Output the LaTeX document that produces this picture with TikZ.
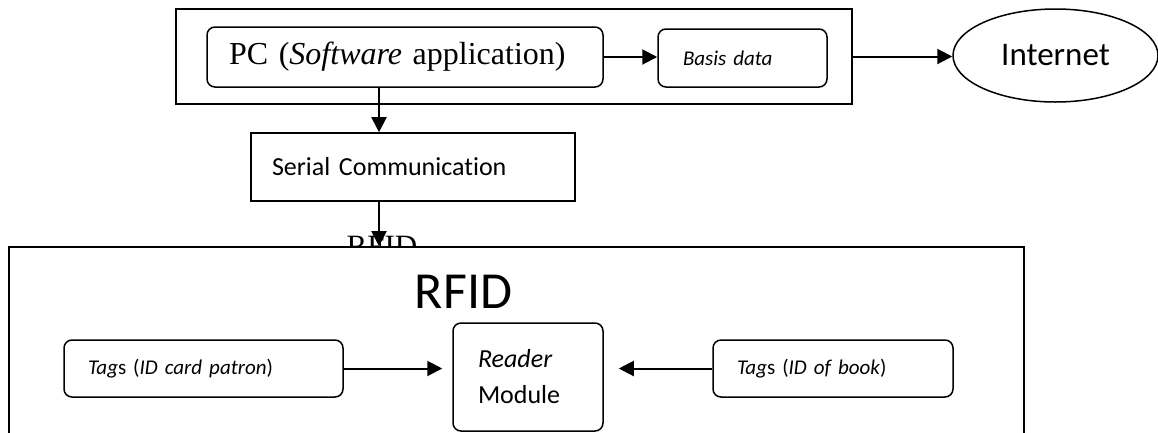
\documentclass[tikz,border=0pt]{standalone}
\usepackage{fontspec}
\setmainfont{Carlito}[Ligatures=NoCommon]
\newfontfamily\tnr{Liberation Serif}
\usetikzlibrary{positioning,arrows.meta,shapes.geometric}
\tikzset{
  outer/.style={rectangle, draw=black, line width=1.6pt, inner sep=0pt},
  rbox/.style={rectangle, rounded corners=8pt, draw=black, line width=1.5pt,
               fill=white, align=left, inner ysep=0pt},
  netnode/.style={ellipse, draw=black, line width=1.5pt, inner sep=0pt,
                  minimum width=205pt, minimum height=93pt},
  flow/.style={-{Triangle[length=15pt,width=15pt]}, draw=black, line width=2pt},
  small/.style={font=\fontsize{21}{25}\selectfont},
}

\begin{document}
\begin{tikzpicture}[x=1pt,y=-1pt]
  \useasboundingbox (0,0) rectangle (1158,432);
  \clip (0,0) rectangle (1158,432);

  % label half hidden behind the RFID frame
  \node[font=\tnr\fontsize{31}{31}\selectfont, anchor=base] (rfidcut) at (382,256) {RFID};
  \node[outer, fill=white, minimum width=1015pt, minimum height=260pt] (rfidbox) at (516.5,377) {};

  % PC side
  \node[outer, minimum width=676pt, minimum height=95pt] (pcframe) at (514,56.5) {};
  \node[rbox, minimum width=396pt, minimum height=60pt, text width=352pt, inner xsep=22pt,
        font=\tnr\fontsize{32}{36}\selectfont] (pc) at (405,57) {PC (\textit{Software} application)};
  \node[rbox, small, minimum width=169pt, minimum height=58pt, text width=119pt,
        inner xsep=25pt] (basis) at (742.5,58) {\textit{Basis data}};
  \node[netnode, font=\fontsize{33}{36}\selectfont] (inet) at (1055.5,55.5) {Internet};
  \node[outer, fill=white, minimum height=68pt, text width=282pt, inner xsep=21pt, align=left,
        font=\fontsize{26}{30}\selectfont] (serial) at (413,167) {Serial Communication};

  % RFID side
  \node[font=\fontsize{52}{52}\selectfont, anchor=base] (rfidlbl) at (463.5,308) {RFID};
  \node[rbox, small, minimum width=279pt, minimum height=57pt, text width=231pt,
        inner xsep=24pt] (tagp) at (203.5,368.5) {\textit{Tag}s (\textit{ID card patron})};
  \node[rbox, minimum width=150pt, minimum height=108pt, text width=100pt, inner xsep=25pt,
        font=\fontsize{26}{36}\selectfont] (reader) at (528,377) {\textit{Reader}\\Module};
  \node[rbox, small, minimum width=240pt, minimum height=57pt, text width=192pt,
        inner xsep=24pt] (tagb) at (833,368.5) {\textit{Tag}s (\textit{ID of book})};

  \coordinate (drop) at (379,0);
  \draw[flow] (pc.east) -- (pc.east -| basis.west);
  \draw[flow] (pcframe.east) -- (pcframe.east -| inet.west);
  \draw[flow] (pc.south -| drop) -- (serial.north -| drop);
  \draw[flow] (serial.south -| drop) -- (rfidbox.north -| drop);
  \draw[flow, shorten >=10pt] (tagp.east) -- (tagp.east -| reader.west);
  \draw[flow, shorten >=15pt] (tagb.west) -- (tagb.west -| reader.east);
\end{tikzpicture}
\end{document}
